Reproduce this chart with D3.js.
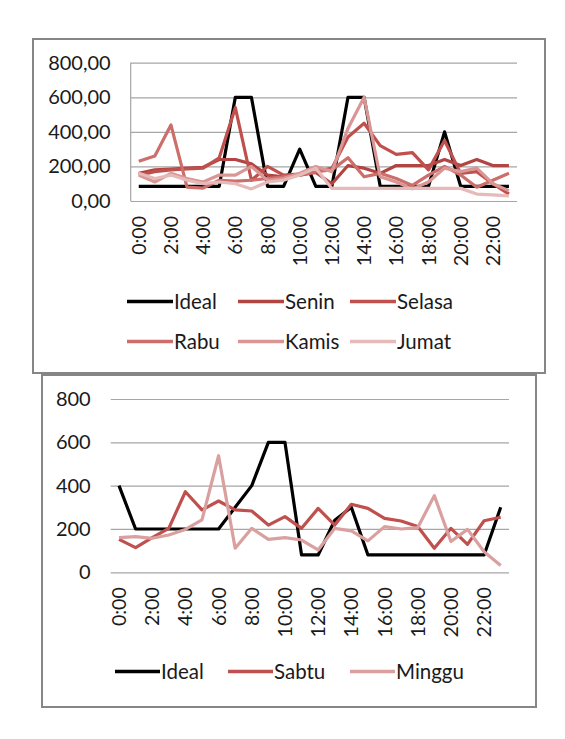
<!DOCTYPE html>
<html>
<head>
<meta charset="utf-8">
<script src="https://cdn.jsdelivr.net/npm/d3@7"></script>
<style>
  html, body { margin: 0; padding: 0; background: #ffffff; }
  svg { display: block; }
  text { font-family: "Lato", "Open Sans", "Liberation Sans", sans-serif; fill: #1a1a1a; }
</style>
</head>
<body>
<svg id="chart" width="565" height="739"></svg>
<script>
// ---------- DATA ----------
const hours = ["0:00","1:00","2:00","3:00","4:00","5:00","6:00","7:00","8:00","9:00","10:00","11:00",
               "12:00","13:00","14:00","15:00","16:00","17:00","18:00","19:00","20:00","21:00","22:00","23:00"];
const xTickLabels = ["0:00","2:00","4:00","6:00","8:00","10:00","12:00","14:00","16:00","18:00","20:00","22:00"];
const yTicks = [0, 200, 400, 600, 800];

// top chart (weekdays)
const idealTop = [85,85,85,85,85,85,600,600,85,85,300,85,85,600,600,85,85,85,85,400,85,85,85,85];
const senin    = [160,180,185,190,195,240,240,215,150,140,150,165,100,205,190,160,205,205,205,240,205,240,205,205];
const selasa   = [150,170,180,185,190,250,540,120,200,150,155,170,190,370,450,320,270,280,180,350,160,170,100,40];
const rabu     = [230,260,440,80,75,120,115,120,130,140,150,170,180,250,140,160,130,90,150,200,150,80,120,160];
const kamis    = [150,110,160,130,110,150,150,200,120,130,160,200,170,420,600,140,110,70,110,190,170,190,100,60];
const jumat    = [160,130,150,120,100,110,100,70,110,120,150,190,73,73,73,73,73,73,73,73,73,40,35,30];

// bottom chart (weekend)
const idealBottom = [400,200,200,200,200,200,200,300,400,600,600,80,80,240,300,80,80,80,80,80,80,80,80,300];
const sabtu       = [152,114,160,203,372,288,329,288,283,218,257,203,295,218,314,295,249,237,211,111,203,129,238,254];
const minggu      = [160,165,157,172,198,242,538,111,203,152,160,149,103,203,191,145,211,200,206,354,142,198,95,31];

const topSeriesNames = ["Ideal","Senin","Selasa","Rabu","Kamis","Jumat"];
const topSeriesValues = [idealTop, senin, selasa, rabu, kamis, jumat];
const topColors = ["#000000","#B04542","#C0504D","#CD6E6B","#D99694","#E6BAB9"];

const bottomSeriesNames = ["Ideal","Sabtu","Minggu"];
const bottomSeriesValues = [idealBottom, sabtu, minggu];
const bottomColors = ["#000000","#C0504D","#D9A09F"];

// ---------- DRAW ----------
const svg = d3.select("#chart");
svg.append("rect").attr("width",565).attr("height",739).attr("fill","#fff");

function drawPanel(cfg) {
  const g = svg.append("g");
  // frame
  g.append("rect")
    .attr("x", cfg.box[0]).attr("y", cfg.box[1])
    .attr("width", cfg.box[2]-cfg.box[0]).attr("height", cfg.box[3]-cfg.box[1])
    .attr("fill","#fff").attr("stroke","#868686").attr("stroke-width",2);

  const x = d3.scaleBand().domain(hours).range([cfg.plot.left, cfg.plot.right]);
  const y = d3.scaleLinear().domain([0, 800]).range([cfg.plot.bottom, cfg.plot.top]);
  const cx = d => x(d) + x.bandwidth()/2;

  // y axis with gridlines
  const yAxis = d3.axisLeft(y).tickValues(yTicks)
    .tickSize(-(cfg.plot.right - cfg.plot.left)).tickPadding(cfg.yPad)
    .tickFormat(cfg.yFormat);
  const ya = g.append("g").attr("transform", `translate(${cfg.plot.left},0)`).call(yAxis);
  ya.select(".domain").remove();
  ya.selectAll(".tick line").attr("stroke","#a6a6a6").attr("stroke-width",1.2);
  ya.selectAll(".tick text").attr("font-size", cfg.yFont).attr("fill","#1a1a1a")
    .style("font-family", '"Lato", "Open Sans", sans-serif');

  if (cfg.vAxis) {
    g.append("line").attr("x1",cfg.plot.left).attr("x2",cfg.plot.left)
      .attr("y1",cfg.plot.top).attr("y2",cfg.plot.bottom)
      .attr("stroke","#a6a6a6").attr("stroke-width",1.2);
  }

  // x axis
  const xAxis = d3.axisBottom(x).tickValues(xTickLabels).tickSize(0).tickPadding(0);
  const xa = g.append("g").attr("transform", `translate(0,${cfg.plot.bottom})`).call(xAxis);
  xa.select(".domain").remove();
  xa.selectAll(".tick text")
    .attr("font-size", cfg.xFont).attr("fill","#1a1a1a")
    .style("font-family", '"Lato", "Open Sans", sans-serif')
    .attr("text-anchor","end")
    .attr("transform", "rotate(-90)")
    .attr("x", -cfg.xGap).attr("y", 0).attr("dy","0.36em");

  // lines
  const line = d3.line().x((d,i) => cx(hours[i])).y(d => y(d)).curve(d3.curveLinear);
  cfg.values.forEach((vals, k) => {
    g.append("path").datum(vals)
      .attr("fill","none").attr("stroke", cfg.colors[k])
      .attr("stroke-width", cfg.lw).attr("stroke-linejoin","round").attr("stroke-linecap","butt")
      .attr("d", line);
  });

  // legend
  cfg.names.forEach((name, k) => {
    const pos = cfg.legendPos[k];
    g.append("line").attr("x1",pos[0]).attr("x2",pos[0]+cfg.legLen)
      .attr("y1",pos[1]).attr("y2",pos[1])
      .attr("stroke", cfg.colors[k]).attr("stroke-width", cfg.lw+0.5);
    g.append("text").attr("x", pos[0]+cfg.legLen+1).attr("y", pos[1]).attr("dy","0.35em")
      .attr("font-size", cfg.legFont).text(name);
  });
}

drawPanel({
  box: [33, 39, 545, 373],
  plot: {left: 130.7, right: 517, top: 62.7, bottom: 201},
  yFormat: d => d3.format(".2f")(d).replace(".", ","),
  yPad: 20, yFont: 20, xFont: 19.5, xGap: 15, vAxis: true,
  values: topSeriesValues, colors: topColors, names: topSeriesNames, lw: 3.2,
  legendPos: [[127,301.5],[238,301.5],[350,301.5],[127,341.5],[238,341.5],[350,341.5]],
  legLen: 46, legFont: 20.5
});

drawPanel({
  box: [42, 375, 536, 707],
  plot: {left: 110.7, right: 509, top: 399, bottom: 572.3},
  yFormat: d => String(d),
  yPad: 20, yFont: 20, xFont: 19.5, xGap: 15, vAxis: false,
  values: bottomSeriesValues, colors: bottomColors, names: bottomSeriesNames, lw: 3.2,
  legendPos: [[115,671.5],[228,671.5],[350,671.5]],
  legLen: 45, legFont: 20.5
});
</script>
</body>
</html>
